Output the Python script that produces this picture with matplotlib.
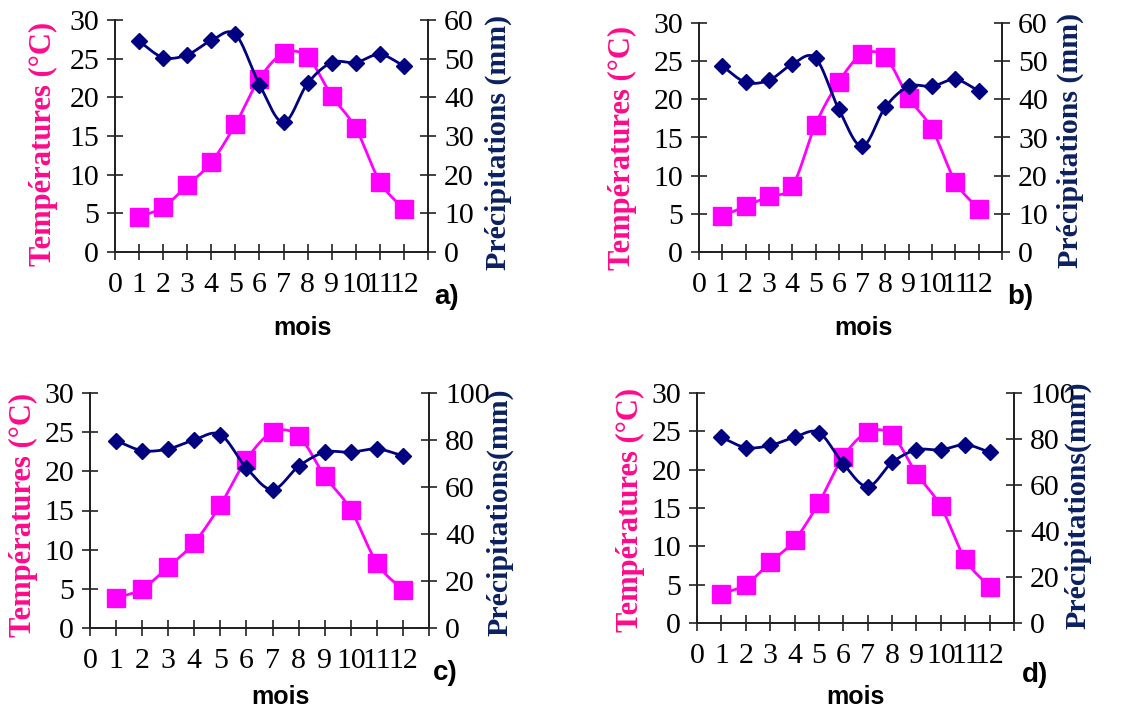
import matplotlib
matplotlib.use("Agg")
import matplotlib.pyplot as plt
import numpy as np

MONTHS = np.arange(1, 13)

temp_a = [4.5, 5.8, 8.6, 11.6, 16.5, 22.4, 25.7, 25.2, 20.2, 16.0, 9.1, 5.5]
precip_a = [54.5, 50.3, 51.0, 54.7, 56.3, 43.3, 33.5, 43.6, 49.0, 49.0, 51.1, 48.1]

temp_b = [4.7, 6.0, 7.3, 8.6, 16.7, 22.3, 25.9, 25.5, 20.2, 16.1, 9.2, 5.6]
precip_b = [48.7, 44.5, 45.0, 49.2, 50.8, 37.4, 27.7, 38.0, 43.4, 43.4, 45.2, 42.2]

temp_c = [3.8, 5.0, 7.8, 10.9, 15.7, 21.5, 25.0, 24.5, 19.4, 15.1, 8.3, 4.8]
precip_c = [79.7, 75.5, 76.2, 80.1, 82.3, 68.1, 58.9, 68.8, 74.8, 74.8, 76.2, 73.3]

temp_d = [3.8, 5.0, 7.9, 10.8, 15.7, 21.7, 24.9, 24.5, 19.5, 15.2, 8.3, 4.7]
precip_d = [80.7, 76.3, 77.2, 80.8, 82.8, 69.2, 59.3, 69.8, 75.3, 75.3, 77.5, 74.3]

temp_ticks = [0, 5, 10, 15, 20, 25, 30]
precip_ticks_ab = [0, 10, 20, 30, 40, 50, 60]
precip_ticks_cd = [0, 20, 40, 60, 80, 100]
month_labels = [str(m) for m in range(13)] + [""]

TEMP_LABEL = "Températures (°C)"
PRECIP_LABEL_AB = "Précipitations (mm)"
PRECIP_LABEL_CD = "Précipitations(mm)"

W, H = 1145, 708
SERIF = "Liberation Serif"
SANS = "Liberation Sans"
MAGENTA = "#FF00FF"
NAVY = "#000080"
PINK_TXT = "#FF0A8C"
NAVY_TXT = "#0B2060"


def smooth(x, y, n=24):
    # Catmull-Rom curve through the points, like a spreadsheet "smoothed line"
    x = np.asarray(x, float)
    y = np.asarray(y, float)
    px = np.concatenate([[2 * x[0] - x[1]], x, [2 * x[-1] - x[-2]]])
    py = np.concatenate([[2 * y[0] - y[1]], y, [2 * y[-1] - y[-2]]])
    t = np.linspace(0, 1, n, endpoint=False)
    xs, ys = [], []
    for i in range(1, len(px) - 2):
        for p, out in ((px, xs), (py, ys)):
            p0, p1, p2, p3 = p[i - 1], p[i], p[i + 1], p[i + 2]
            out.append(0.5 * (2 * p1 + (-p0 + p2) * t
                              + (2 * p0 - 5 * p1 + 4 * p2 - p3) * t ** 2
                              + (-p0 + 3 * p1 - 3 * p2 + p3) * t ** 3))
    xs.append([x[-1]])
    ys.append([y[-1]])
    return np.concatenate(xs), np.concatenate(ys)


def fig_xy(px, py):
    return px / W, 1 - py / H


def draw_panel(fig, box, temps, precips, pticks, plabel, tag, spots):
    left, top, right, bottom = box
    ax = fig.add_axes([left / W, 1 - bottom / H, (right - left) / W, (bottom - top) / H])
    ax2 = ax.twinx()

    ax.set_xlim(0, 13)
    ax.set_ylim(0, 30)
    ax2.set_ylim(0, pticks[-1])
    ax.set_xticks(range(14))
    ax.set_xticklabels(month_labels)
    ax.set_yticks(temp_ticks)
    ax2.set_yticks(pticks)

    for a in (ax, ax2):
        a.patch.set_visible(False)
        a.spines["top"].set_visible(False)
        for s in a.spines.values():
            s.set_linewidth(1.3)
            s.set_color("#222222")
        a.tick_params(direction="inout", length=11, width=1.2, color="#222222",
                      labelsize=21.5, pad=6)
        for lab in a.get_xticklabels() + a.get_yticklabels():
            lab.set_fontfamily(SERIF)
    ax.tick_params(axis="x", pad=9)

    sx, sy = smooth(MONTHS, temps)
    ax.plot(sx, sy, color=MAGENTA, lw=2, zorder=3)
    ax.plot(MONTHS, temps, ls="none", marker="s", ms=12.5, color=MAGENTA, zorder=4)

    sx, sy = smooth(MONTHS, precips)
    ax2.plot(sx, sy, color=NAVY, lw=2, zorder=3)
    ax2.plot(MONTHS, precips, ls="none", marker="D", ms=8.5, color=NAVY, zorder=4)

    tl, pl, mois, lab = spots
    fig.text(*fig_xy(*tl), TEMP_LABEL, rotation=90, ha="center", va="center",
             color=PINK_TXT, fontsize=22, fontweight="bold", family=SERIF)
    fig.text(*fig_xy(*pl), plabel, rotation=90, ha="center", va="center",
             color=NAVY_TXT, fontsize=21.5, fontweight="bold", family=SERIF)
    fig.text(*fig_xy(*mois), "mois", ha="center", va="center",
             fontsize=18, fontweight="bold", family=SANS)
    fig.text(*fig_xy(*lab), tag, ha="center", va="center",
             fontsize=20, fontweight="bold", family=SANS)


fig = plt.figure(figsize=(W / 100, H / 100), dpi=100)

draw_panel(fig, (115, 20, 428, 252), temp_a, precip_a, precip_ticks_ab, PRECIP_LABEL_AB, "a)",
           ((43, 144), (498, 142), (302, 328), (447, 297)))
draw_panel(fig, (699, 23, 1002, 252), temp_b, precip_b, precip_ticks_ab, PRECIP_LABEL_AB, "b)",
           ((622, 148), (1070, 140), (863, 328), (1020, 297)))
draw_panel(fig, (90, 393, 429, 628), temp_c, precip_c, precip_ticks_cd, PRECIP_LABEL_CD, "c)",
           ((23, 515), (500, 512), (280, 697), (445, 673)))
draw_panel(fig, (697, 393, 1014, 623), temp_d, precip_d, precip_ticks_cd, PRECIP_LABEL_CD, "d)",
           ((630, 510), (1078, 505), (855, 697), (1035, 675)))

fig.savefig("out.png", dpi=100)
